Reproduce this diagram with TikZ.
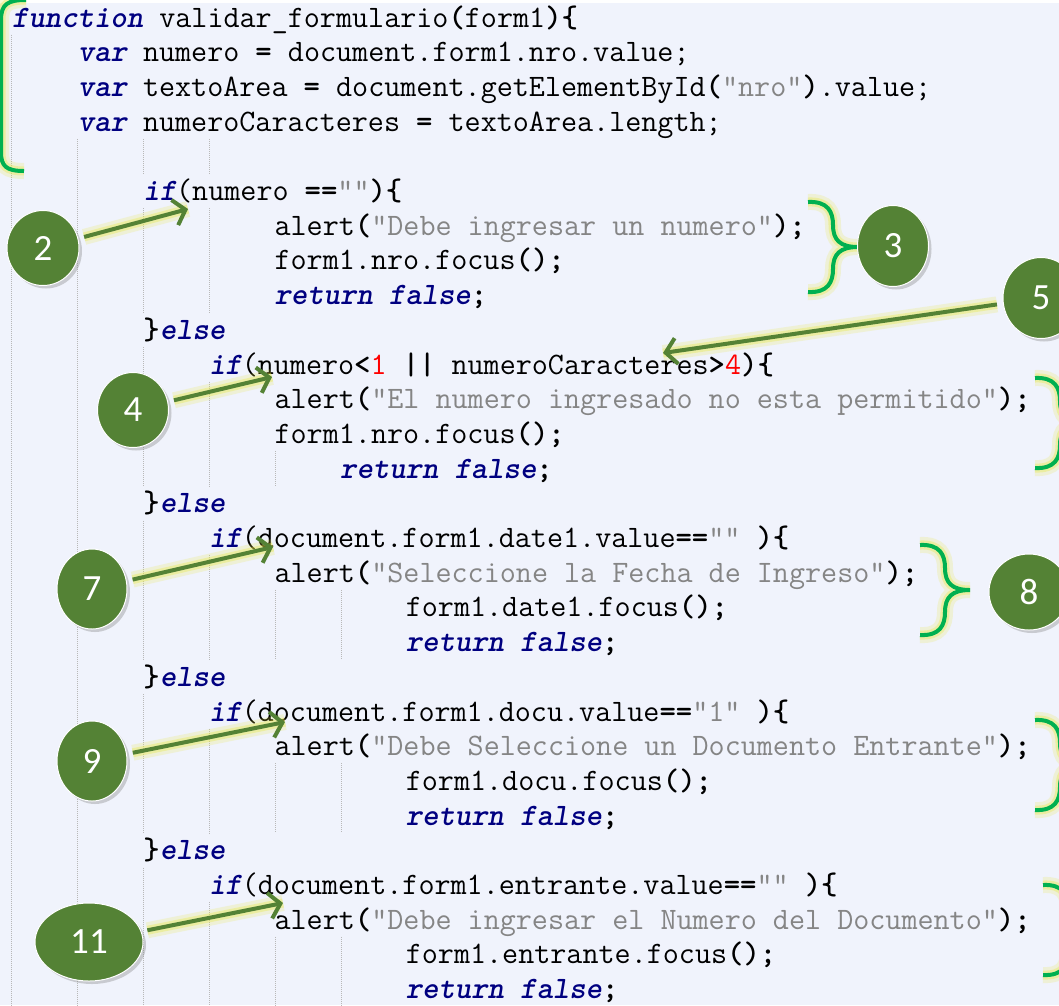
\documentclass[tikz,border=0pt]{standalone}
\usepackage{fontspec}
\newfontfamily\badgefont{Carlito}
\usepackage{tikz}
\usetikzlibrary{shapes.geometric, arrows.meta, shadows}
\definecolor{page-lavender}{HTML}{F0F3FC}
\definecolor{navy-blue}{HTML}{000080}
\definecolor{string-grey}{HTML}{858585}
\definecolor{number-red}{HTML}{FF0000}
\definecolor{guide-grey}{HTML}{B8B8B8}
\definecolor{badge-green}{HTML}{548235}
\definecolor{brace-green}{HTML}{00B050}
\definecolor{glow-yellow}{HTML}{E8E840}

\newcommand{\cdkw}[1]{{\bfseries\itshape\color{navy-blue}#1}}
\newcommand{\cdop}[1]{{\bfseries #1}}
\newcommand{\cdstr}[1]{{\color{string-grey}#1}}
\newcommand{\cdnum}[1]{{\color{number-red}#1}}

\tikzset{
  codeline/.style={anchor=base west, inner sep=0pt, font=\ttfamily\fontsize{31.2}{34.7}\selectfont},
  guide/.style={draw=guide-grey, line width=1pt, dash pattern=on 1pt off 1pt},
  badge/.style={ellipse, fill=badge-green, draw=white, line width=1pt, text=white,
    inner sep=0pt, font=\badgefont\fontsize{37}{37}\selectfont,
    drop shadow={shadow xshift=3pt, shadow yshift=-3pt, opacity=.35}},
  pointer/.style={draw=badge-green, line width=4pt, shorten <=6pt,
    -{Straight Barb[length=11pt,width=26pt]},
    preaction={draw=glow-yellow, line width=16pt, opacity=.2, arrows=-},
    preaction={draw=glow-yellow, line width=9pt, opacity=.35, arrows=-}},
  curlyline/.style={draw=brace-green, line width=4pt,
    preaction={draw=glow-yellow, line width=16pt, opacity=.2},
    preaction={draw=glow-yellow, line width=9pt, opacity=.35}},
  curly/.pic={
    \path[curlyline] (0,0) .. controls (20,-1) and (25,10) .. (25,23)
      .. controls (25,38) and (32,45) .. (50,45)
      .. controls (32,45) and (25,52) .. (25,67)
      .. controls (25,80) and (20,91) .. (0,90);
  }
}

\begin{document}
\begin{tikzpicture}[x=1pt, y=-1pt]
  \useasboundingbox (0,0) rectangle (1059,1005);
  \clip (0,0) rectangle (1059,1005);
  \fill[page-lavender] (0,0) rectangle (1059,1005);
  \fill[white] (0,0) rectangle (1059,3);

  % indent guides: x / first line / last line
  \foreach \x/\a/\b in {11/1/29, 77/4/29, 143/4/5, 209/4/5,
      143/6/9, 209/6/9, 143/10/14, 209/11/14, 275/13/14,
      143/15/19, 209/16/19, 275/17/19, 341/17/19,
      143/20/24, 209/21/24, 275/22/24, 341/22/24,
      143/25/29, 209/26/29, 275/27/29, 341/27/29}
    \draw[guide] (\x,{34.7*\a}) -- (\x,{34.7*\b});

  % code
  \node[codeline] (l0) at (12,27) {\cdkw{function} validar\_formulario\cdop{(}form1\cdop{)\{}};
  \node[codeline] (l1) at (77.6,61.7) {\cdkw{var} numero \cdop{=} document.form1.nro.value;};
  \node[codeline] (l2) at (77.6,96.4) {\cdkw{var} textoArea \cdop{=} document.getElementById\cdop{(}\cdstr{"nro"}\cdop{)}.value;};
  \node[codeline] (l3) at (77.6,131.1) {\cdkw{var} numeroCaracteres \cdop{=} textoArea.length;};
  \node[codeline] (l5) at (143.2,200.5) {\cdkw{if}(numero \cdop{==}\cdstr{""}\cdop{)\{}};
  \node[codeline] (l6) at (274.4,235.2) {alert\cdop{(}\cdstr{"Debe ingresar un numero"}\cdop{);}};
  \node[codeline] (l7) at (274.4,269.9) {form1.nro.focus\cdop{();}};
  \node[codeline] (l8) at (274.4,304.6) {\cdkw{return} \cdkw{false}\cdop{;}};
  \node[codeline] (l9) at (143.2,339.3) {\cdop{\}}\cdkw{else}};
  \node[codeline] (l10) at (208.8,374) {\cdkw{if}(numero\cdop{<}\cdnum{1} \cdop{||} numeroCaracteres\cdop{>}\cdnum{4}\cdop{)\{}};
  \node[codeline] (l11) at (274.4,408.7) {alert\cdop{(}\cdstr{"El numero ingresado no esta permitido"}\cdop{);}};
  \node[codeline] (l12) at (274.4,443.4) {form1.nro.focus\cdop{();}};
  \node[codeline] (l13) at (340,478.1) {\cdkw{return} \cdkw{false}\cdop{;}};
  \node[codeline] (l14) at (143.2,512.8) {\cdop{\}}\cdkw{else}};
  \node[codeline] (l15) at (208.8,547.5) {\cdkw{if}(document.form1.date1.value\cdop{==}\cdstr{""} \cdop{)\{}};
  \node[codeline] (l16) at (274.4,582.2) {alert\cdop{(}\cdstr{"Seleccione la Fecha de Ingreso"}\cdop{);}};
  \node[codeline] (l17) at (405.6,616.9) {form1.date1.focus\cdop{();}};
  \node[codeline] (l18) at (405.6,651.6) {\cdkw{return} \cdkw{false}\cdop{;}};
  \node[codeline] (l19) at (143.2,686.3) {\cdop{\}}\cdkw{else}};
  \node[codeline] (l20) at (208.8,721) {\cdkw{if}(document.form1.docu.value\cdop{==}\cdstr{"1"} \cdop{)\{}};
  \node[codeline] (l21) at (274.4,755.7) {alert\cdop{(}\cdstr{"Debe Seleccione un Documento Entrante"}\cdop{);}};
  \node[codeline] (l22) at (405.6,790.4) {form1.docu.focus\cdop{();}};
  \node[codeline] (l23) at (405.6,825.1) {\cdkw{return} \cdkw{false}\cdop{;}};
  \node[codeline] (l24) at (143.2,859.8) {\cdop{\}}\cdkw{else}};
  \node[codeline] (l25) at (208.8,894.5) {\cdkw{if}(document.form1.entrante.value\cdop{==}\cdstr{""} \cdop{)\{}};
  \node[codeline] (l26) at (274.4,929.2) {alert\cdop{(}\cdstr{"Debe ingresar el Numero del Documento"}\cdop{);}};
  \node[codeline] (l27) at (405.6,963.9) {form1.entrante.focus\cdop{();}};
  \node[codeline] (l28) at (405.6,998.6) {\cdkw{return} \cdkw{false}\cdop{;}};

  % braces
  \path[curlyline] (26,0) .. controls (8,0) and (1,4) .. (1,20) -- (1,152)
    .. controls (1,166) and (6,171) .. (24,171);
  \pic at (808,202) {curly};
  \pic at (1035,378) {curly};
  \pic at (920,545) {curly};
  \pic at (1035,720) {curly};
  \pic at (1043,885) {curly};

  % badges
  \node[badge, minimum width=72pt, minimum height=75pt] (n2) at (43,248) {2};
  \node[badge, minimum width=71pt, minimum height=81pt] (n3) at (893,246) {3};
  \node[badge, minimum width=71pt, minimum height=75pt] (n4) at (133,410) {4};
  \node[badge, minimum width=76pt, minimum height=81pt] (n5) at (1041,298) {5};
  \node[badge, minimum width=70pt, minimum height=80pt] (n7) at (92,589) {7};
  \node[badge, minimum width=80pt, minimum height=76pt] (n8) at (1029,592) {8};
  \node[badge, minimum width=70pt, minimum height=80pt] (n9) at (92,761) {9};
  \node[badge, minimum width=108pt, minimum height=78pt] (n11) at (89,942) {11};

  % arrows
  \coordinate (t2) at (188,209);
  \coordinate (t4) at (272,377);
  \coordinate (t5) at (663,353);
  \coordinate (t7) at (273,547);
  \coordinate (t9) at (285,722);
  \coordinate (t11) at (283,903);
  \foreach \b in {2,4,5,7,9,11}
    \draw[pointer] (n\b) -- (t\b);
\end{tikzpicture}
\end{document}
